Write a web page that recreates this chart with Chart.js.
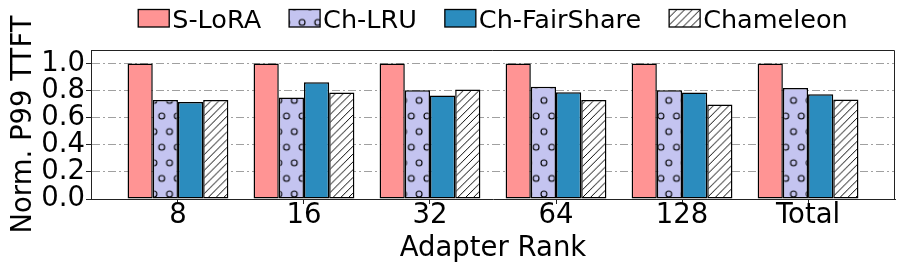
<!DOCTYPE html>
<html>
<head>
<meta charset="utf-8">
<script src="https://cdn.jsdelivr.net/npm/chart.js@4.4.0/dist/chart.umd.min.js"></script>
<style>html,body{margin:0;padding:0;background:#fff}</style>
</head>
<body>
<canvas id="myChart" width="897" height="268"></canvas>
<script>
const ranks = ['8', '16', '32', '64', '128', 'Total'];
const seriesNames = ['S-LoRA', 'Ch-LRU', 'Ch-FairShare', 'Chameleon'];
const sLora = [1.0, 1.0, 1.0, 1.0, 1.0, 1.0];
const chLru = [0.73, 0.75, 0.803, 0.828, 0.803, 0.82];
const chFairShare = [0.717, 0.862, 0.764, 0.789, 0.786, 0.774];
const chameleon = [0.73, 0.786, 0.808, 0.73, 0.698, 0.735];
const yTicks = [0.0, 0.2, 0.4, 0.6, 0.8, 1.0];

const FONT = "'DejaVu Sans', sans-serif";
Chart.defaults.font.family = FONT;
Chart.defaults.color = '#000';

var canvas = document.getElementById('myChart');
var ctx = canvas.getContext('2d');

// 'o' hatch on lavender
function dotPattern(bg) {
  const c = document.createElement('canvas');
  c.width = 16; c.height = 32;
  const g = c.getContext('2d');
  g.fillStyle = bg;
  g.fillRect(0, 0, 16, 32);
  g.strokeStyle = '#000';
  g.lineWidth = 1.1;
  [[0, 0], [16, 0], [0, 32], [16, 32], [8, 16]].forEach(function (p) {
    g.beginPath();
    g.arc(p[0], p[1], 3, 0, Math.PI * 2);
    g.stroke();
  });
  const pat = ctx.createPattern(c, 'repeat');
  pat.setTransform(new DOMMatrix([0.975, 0, 0, 0.975, 5.7, 22.4]));
  return pat;
}

// '//' hatch on white
function slashPattern(bg) {
  const c = document.createElement('canvas');
  c.width = 8; c.height = 8;
  const g = c.getContext('2d');
  g.fillStyle = bg;
  g.fillRect(0, 0, 8, 8);
  g.strokeStyle = '#000';
  g.lineWidth = 1;
  g.beginPath();
  g.moveTo(0, 8); g.lineTo(8, 0);
  g.moveTo(-2, 2); g.lineTo(2, -2);
  g.moveTo(6, 10); g.lineTo(10, 6);
  g.stroke();
  const pat = ctx.createPattern(c, 'repeat');
  pat.setTransform(new DOMMatrix([0.975, 0, 0, 0.975, 0, 0]));
  return pat;
}

const fills = ['#ff9494', dotPattern('#c4c4f0'), '#2b8cbe', slashPattern('#ffffff')];
const values = [sLora, chLru, chFairShare, chameleon];

function toPoints(arr) {
  return arr.map(function (v, i) { return {x: i, y: v}; });
}

// legend + top/right frame
const extras = {
  id: 'extras',
  afterDatasetsDraw(chart) {
    const a = chart.chartArea;
    const c = chart.ctx;
    c.save();
    c.strokeStyle = '#222';
    c.lineWidth = 1;
    c.beginPath();
    c.moveTo(a.left, a.top + 0.5);
    c.lineTo(a.right - 0.5, a.top + 0.5);
    c.lineTo(a.right - 0.5, a.bottom);
    c.stroke();
    c.restore();
  },
  afterDraw(chart) {
    const c = chart.ctx;
    const a = chart.chartArea;
    const boxW = 31, boxH = 17.5, gapText = 3, gapItem = 28;
    c.save();
    c.font = '25.5px ' + FONT;
    c.textBaseline = 'alphabetic';
    c.textAlign = 'left';
    const widths = seriesNames.map(function (n) { return c.measureText(n).width; });
    let total = widths.reduce(function (s, w) { return s + w + boxW + gapText; }, 0) + gapItem * (seriesNames.length - 1);
    let x = (a.left + a.right) / 2 - total / 2;
    seriesNames.forEach(function (n, i) {
      c.fillStyle = fills[i];
      c.fillRect(x, 9.5, boxW, boxH);
      c.strokeStyle = '#000';
      c.lineWidth = 1.3;
      c.strokeRect(x, 9.5, boxW, boxH);
      c.fillStyle = '#000';
      c.fillText(n, x + boxW + gapText, 27.5);
      x += boxW + gapText + widths[i] + gapItem;
    });
    c.restore();
  }
};

const config = {
  type: 'bar',
  data: {
    datasets: seriesNames.map(function (name, i) {
      return {
        label: name,
        data: toPoints(values[i]),
        backgroundColor: fills[i],
        borderColor: '#000',
        borderWidth: 1.5,
        borderSkipped: false,
        categoryPercentage: 0.8,
        barPercentage: 1.0
      };
    })
  },
  options: {
    responsive: false,
    animation: false,
    layout: {padding: {top: 50, right: 2, left: 0, bottom: 0}},
    plugins: {
      legend: {display: false},
      tooltip: {enabled: false}
    },
    scales: {
      x: {
        type: 'linear',
        min: -0.69,
        max: 5.69,
        offset: false,
        afterBuildTicks: function (s) {
          s.ticks = ranks.map(function (_, i) { return {value: i}; });
        },
        afterFit: function (s) { s.height = 69; },
        ticks: {
          callback: function (v) { return ranks[v]; },
          font: {size: 27.5, lineHeight: 1},
          padding: -2,
          maxRotation: 0,
          autoSkip: false
        },
        grid: {
          offset: false,
          drawOnChartArea: false,
          drawTicks: true,
          tickLength: 5,
          tickColor: '#222',
          tickWidth: 1
        },
        border: {display: true, color: '#222', width: 1},
        title: {
          display: true,
          text: 'Adapter Rank',
          font: {size: 27.5, lineHeight: 1.2},
          padding: {top: 0, bottom: 3}
        }
      },
      y: {
        min: 0,
        max: 1.1,
        afterBuildTicks: function (s) {
          s.ticks = yTicks.map(function (v) { return {value: v}; });
        },
        afterFit: function (s) { s.width = 91; },
        ticks: {
          callback: function (v) { return v.toFixed(1); },
          font: {size: 27.5, lineHeight: 1},
          padding: 1,
          autoSkip: false
        },
        grid: {
          color: function (c) { return c.tick && c.tick.value === 0 ? 'rgba(0,0,0,0)' : '#a0a0a0'; },
          lineWidth: 1,
          drawTicks: true,
          tickLength: 5,
          tickColor: '#222',
          tickWidth: 1,
          tickBorderDash: []
        },
        border: {display: true, color: '#222', width: 1, dash: [8, 3, 2, 3]},
        title: {
          display: true,
          text: 'Norm. P99 TTFT',
          font: {size: 27.5, lineHeight: 1.2},
          padding: {top: 7, bottom: 0}
        }
      }
    }
  },
  plugins: [extras]
};

var grafica = new Chart(ctx, config);
</script>
</body>
</html>
